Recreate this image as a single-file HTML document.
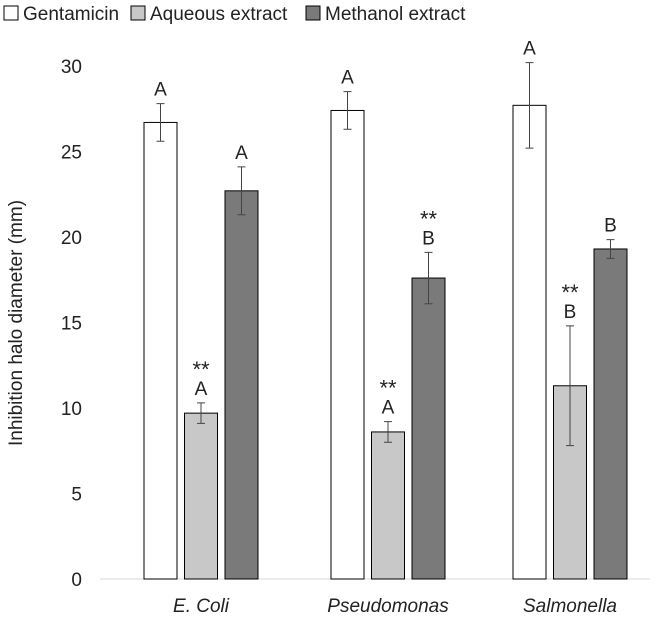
<!DOCTYPE html>
<html><head><meta charset="utf-8">
<style>
body{margin:0;background:#fff;}
svg{display:block;font-family:"Liberation Sans",Arial,sans-serif;}
</style></head>
<body>
<svg id="chart" width="672" height="626" viewBox="0 0 672 626">
<g id="legend">
  <g><rect x="4" y="6" width="14" height="14" fill="#fff" stroke="#000"/><text x="23" y="20" font-size="19" fill="#222">Gentamicin</text></g>
  <g><rect x="131" y="6" width="14" height="14" fill="#c8c8c8" stroke="#000"/><text x="150" y="20" font-size="19" fill="#222">Aqueous extract</text></g>
  <g><rect x="306" y="6" width="14" height="14" fill="#7a7a7a" stroke="#000"/><text x="325" y="20" font-size="19" fill="#222">Methanol extract</text></g>
</g>
<text transform="translate(22,323) rotate(-90)" text-anchor="middle" font-size="19" fill="#222">Inhibition halo diameter (mm)</text>
<g id="axes"></g>
<g id="bars"></g>
</svg>
<script>
const categories=["E. Coli","Pseudomonas","Salmonella"];
const seriesNames=["Gentamicin","Aqueous extract","Methanol extract"];
const gentamicin=[26.7,27.4,27.7];
const aqueous=[9.7,8.6,11.3];
const methanol=[22.7,17.6,19.3];
const gentErr=[1.1,1.1,2.5];
const aqErr=[0.6,0.6,3.5];
const methErr=[1.4,1.5,0.55];
const gentLabels=["A","A","A"];
const aqLabels=["**\nA","**\nA","**\nB"];
const methLabels=["A","**\nB","B"];
const yTicks=[0,5,10,15,20,25,30];

const NS="http://www.w3.org/2000/svg";
const y0=579,yTop=66,yMax=30;
const yS=v=>y0-(v/yMax)*(y0-yTop);
const groupStart=[144,331,513], bw=33, gap=40.5;
const xS=(c,s)=>groupStart[c]+s*gap;
function mk(t,a,p){const e=document.createElementNS(NS,t);for(const k in a)e.setAttribute(k,a[k]);p.appendChild(e);return e;}
const axes=document.getElementById('axes'),bars=document.getElementById('bars');
const axisLine=mk('line',{x1:100,x2:650,y1:y0,y2:y0,stroke:'#d9d9d9','stroke-width':1},axes);


yTicks.forEach(v=>{
  const t=mk('text',{x:82,y:yS(v)+7,'text-anchor':'end','font-size':19,fill:'#222'},axes);
  t.textContent=v;
  
  
});
categories.forEach((c,i)=>{
  const t=mk('text',{x:xS(i,1)+bw/2,y:612,'text-anchor':'middle','font-size':19,'font-style':'italic',fill:'#222'},axes);
  t.textContent=c;
  
  
});
const series=[[gentamicin,gentErr,gentLabels,'#fff'],[aqueous,aqErr,aqLabels,'#c8c8c8'],[methanol,methErr,methLabels,'#7a7a7a']];
series.forEach((s,si)=>{
  const [vals,errs,labs,fill]=s;
  vals.forEach((v,ci)=>{
    const x=xS(ci,si),y=yS(v);
    const r=mk('rect',{x:x,y:y,width:bw,height:y0-y,fill:fill,stroke:'#000','stroke-width':1},bars);
    
    
    const cx=x+bw/2,yh=yS(v+errs[ci]),yl=yS(v-errs[ci]);
    const eb=mk('path',{d:`M${cx},${yh}V${yl}M${cx-4},${yh}H${cx+4}M${cx-4},${yl}H${cx+4}`,stroke:'#444','stroke-width':1,fill:'none'},bars);
    
    
    const lines=labs[ci].split('\n');
    lines.reverse().forEach((ln,k)=>{
      const t=mk('text',{x:cx,y:yh-8-k*24+(ln==='**'?6:0),'text-anchor':'middle','font-size':(ln==='**'?22:19),fill:'#222'},bars);
      t.textContent=ln;
      
      
    });
  });
});
</script>
</body></html>
